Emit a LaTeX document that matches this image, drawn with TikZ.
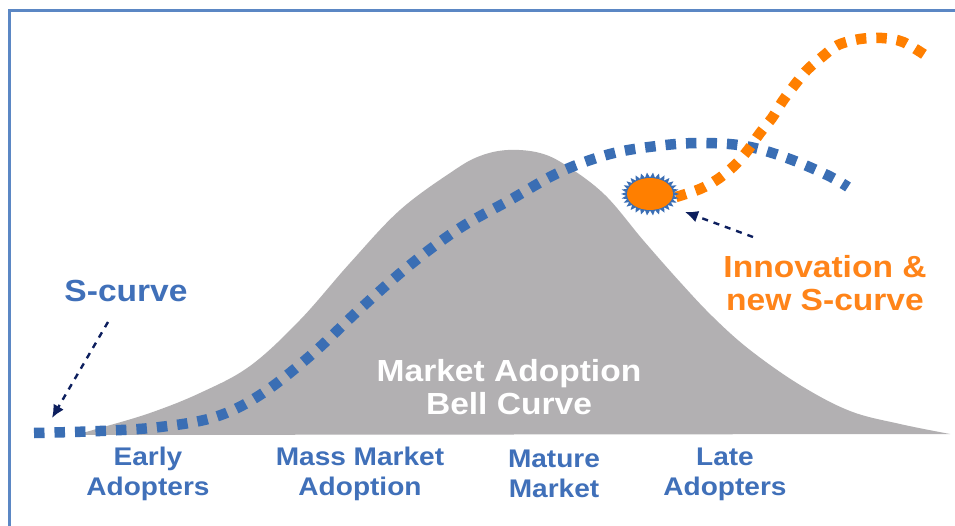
\documentclass[tikz,border=0pt]{standalone}
\usepackage{fontspec}
\setmainfont{Liberation Sans}[FakeStretch=1.1]
\usetikzlibrary{arrows.meta}
\definecolor{framblue}{HTML}{5B87C4}
\definecolor{bellgray}{HTML}{B2B0B2}
\definecolor{dotblue}{HTML}{3A6EB4}
\definecolor{txtblue}{HTML}{4070B9}
\definecolor{dotorange}{HTML}{FF7F00}
\definecolor{txtorange}{HTML}{FF8419}
\definecolor{navy}{HTML}{0D1F5E}
\tikzset{
  smalllbl/.style={font=\bfseries\fontsize{25.5}{30}\selectfont, text=txtblue, align=center, inner sep=0pt},
  biglbl/.style={font=\bfseries\fontsize{30.5}{33}\selectfont, align=center, inner sep=0pt},
  dotline/.style={line width=10.5pt, line cap=butt, dash pattern=on 10.5pt off 10pt},
  navyarrow/.style={navy, line width=2.4pt, dash pattern=on 6pt off 6pt, -{Latex[length=13pt,width=12pt]}},
}
\begin{document}
\begin{tikzpicture}[x=1pt,y=-1pt]
\useasboundingbox (0,0) rectangle (955,526);
\fill[white] (0,0) rectangle (955,526);
% frame
\draw[framblue, line width=3pt] (9,527) -- (9,11) -- (956,11);
% bell curve
\fill[bellgray] plot[smooth, tension=0.6] coordinates {(75,435) (100,428) (150,413) (200,393) (250,366) (300,320) (350,263) (400,210) (453,171) (480,156) (508,150) (540,153) (567,166) (605,195) (643,240) (680,282) (713,317) (750,350) (800,385) (850,411) (900,424) (950,434)} -- cycle;
\node[biglbl, text=white] (bell) at (509,387) {Market Adoption\\Bell Curve};
% blue S-curve
\draw[dotblue, dotline] plot[smooth, tension=0.6] coordinates {(34,433) (100,431) (160,427) (215,417) (260,395) (310,356) (360,309) (410,265) (460,228) (510,200) (560,172) (610,154) (657,146) (700,143) (745,146) (787,158) (827,175) (848,187)};
% orange S-curve
\draw[dotorange, dotline] plot[smooth, tension=0.55] coordinates {(676,197) (700,189) (718,179) (735,165) (748,150) (760,133) (772,118) (782,102) (793,87) (807,70) (822,57) (838,45) (860,39) (882,38) (903,42) (928,57)};
% sun
\coordinate (sun) at (650,194);
\fill[dotblue] plot[domain=0:60, samples=61] ({650+(26.5+2.5*cos(\x*180))*cos(\x*6)}, {194+(19+2.5*cos(\x*180))*sin(\x*6)}) -- cycle;
\fill[dotorange] (sun) ellipse [x radius=23pt, y radius=16pt];
% labels
\node[biglbl, text=txtblue] (scurve) at (126,291) {S-curve};
\node[biglbl, text=txtorange] (innov) at (825,283) {Innovation \&\\new S-curve};
\node[smalllbl] (early) at (148,474) {Early\\Adopters};
\node[smalllbl] (mass) at (360,474) {Mass Market\\Adoption};
\node[smalllbl] (mature) at (554,474) {Mature\\Market};
\node[smalllbl] (late) at (725,474) {Late\\Adopters};
% arrows
\coordinate (stail) at (108,322);
\coordinate (stip) at (52,418);
\coordinate (itail) at (753,237);
\coordinate (itip) at (685,212);
\draw[navyarrow] (stail) -- (stip);
\draw[navyarrow] (itail) -- (itip);
\end{tikzpicture}
\end{document}
